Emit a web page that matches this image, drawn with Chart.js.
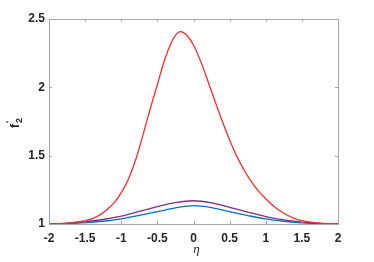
<!DOCTYPE html>
<html>
<head>
<meta charset="utf-8">
<script src="https://cdn.jsdelivr.net/npm/chart.js@4"></script>
<style>
  html, body { margin: 0; padding: 0; background: #fff; }
  #wrap { width: 374px; height: 262px; }
</style>
</head>
<body>
<div id="wrap"><canvas id="chart" width="374" height="262"></canvas></div>
<script>
// values
var redEta = [-2, -1.75, -1.5, -1.4, -1.3, -1.2, -1.1, -1.0, -0.9, -0.8, -0.7, -0.6, -0.5, -0.4, -0.3, -0.25, -0.18, -0.1, 0, 0.1, 0.2, 0.3, 0.4, 0.5, 0.6, 0.7, 0.8, 0.9, 1.0, 1.1, 1.2, 1.3, 1.4, 1.5, 1.75, 2];
var redF = [1.0, 1.006, 1.024, 1.04, 1.065, 1.105, 1.155, 1.23, 1.33, 1.47, 1.65, 1.84, 2.02, 2.20, 2.335, 2.38, 2.407, 2.385, 2.31, 2.19, 2.045, 1.894, 1.75, 1.615, 1.495, 1.395, 1.31, 1.24, 1.185, 1.135, 1.095, 1.064, 1.040, 1.024, 1.006, 1.0];

var eta = [-2, -1.75, -1.5, -1.25, -1.0, -0.75, -0.5, -0.25, 0, 0.25, 0.5, 0.75, 1.0, 1.25, 1.5, 1.75, 2];
var purpleF = [1.0, 1.006, 1.017, 1.033, 1.058, 1.092, 1.127, 1.156, 1.170, 1.155, 1.122, 1.087, 1.054, 1.03, 1.013, 1.004, 1.0];
var blueF = [1.0, 1.003, 1.01, 1.02, 1.037, 1.063, 1.09, 1.118, 1.134, 1.12, 1.09, 1.062, 1.037, 1.02, 1.008, 1.002, 1.0];

var xTicks = [-2, -1.5, -1, -0.5, 0, 0.5, 1, 1.5, 2];
var yTicks = [1, 1.5, 2, 2.5];

function pts(xs, ys) {
    return xs.map((x, i) => ({ x: x, y: ys[i] }));
}

var axisColor = '#a6a6a6';
var tickFont = { family: 'Liberation Sans', size: 12, weight: 'bold' };

// box, inward ticks and axis titles
const boxPlugin = {
    id: 'box',
    afterDraw(chart) {
        const c = chart.ctx;
        const a = chart.chartArea;
        const xs = chart.scales.x, ys = chart.scales.y;
        c.save();
        c.strokeStyle = axisColor;
        c.lineWidth = 1;
        c.strokeRect(Math.round(a.left) + 0.5, Math.round(a.top) + 0.5,
            Math.round(a.right - a.left), Math.round(a.bottom - a.top));
        c.beginPath();
        xTicks.forEach(v => {
            const px = Math.round(xs.getPixelForValue(v)) + 0.5;
            c.moveTo(px, a.bottom); c.lineTo(px, a.bottom - 3);
            c.moveTo(px, a.top); c.lineTo(px, a.top + 3);
        });
        yTicks.forEach(v => {
            const py = Math.round(ys.getPixelForValue(v)) + 0.5;
            c.moveTo(a.left, py); c.lineTo(a.left + 3, py);
            c.moveTo(a.right, py); c.lineTo(a.right - 3, py);
        });
        c.stroke();

        // x title
        c.fillStyle = '#262626';
        c.font = 'italic 13px "Liberation Serif"';
        c.textAlign = 'center';
        c.textBaseline = 'middle';
        c.fillText('η', (a.left + a.right) / 2 + 3, 250);

        // y title f2'
        c.translate(15, 122);
        c.rotate(-Math.PI / 2);
        c.textAlign = 'left';
        c.textBaseline = 'alphabetic';
        c.font = 'bold 12px "Liberation Sans"';
        c.fillText('f', -6, 4);
        c.font = 'bold 9px "Liberation Sans"';
        c.fillText('2', -1, 7);
        c.fillText('\'', -1, -3);
        c.restore();
    }
};

const ctx = document.getElementById('chart').getContext('2d');
const myChart = new Chart(ctx, {
    type: 'line',
    data: {
        datasets: [{
            label: 'red',
            data: pts(redEta, redF),
            borderColor: '#ff2a2a',
            borderWidth: 1.3,
            pointRadius: 0,
            fill: false,
            cubicInterpolationMode: 'monotone'
        }, {
            label: 'purple',
            data: pts(eta, purpleF),
            borderColor: '#7e2f8e',
            borderWidth: 1.3,
            pointRadius: 0,
            fill: false,
            cubicInterpolationMode: 'monotone'
        }, {
            label: 'blue',
            data: pts(eta, blueF),
            borderColor: '#0072bd',
            borderWidth: 1.3,
            pointRadius: 0,
            fill: false,
            cubicInterpolationMode: 'monotone'
        }]
    },
    options: {
        responsive: false,
        animation: false,
        layout: { padding: { top: 19, right: 36, left: 0, bottom: 0 } },
        plugins: {
            legend: { display: false },
            tooltip: { enabled: false }
        },
        scales: {
            x: {
                type: 'linear',
                min: -2, max: 2,
                afterFit: s => { s.height = 38; },
                afterBuildTicks: s => { s.ticks = xTicks.map(v => ({ value: v })); },
                grid: { display: false, drawTicks: false },
                border: { display: false },
                ticks: {
                    font: tickFont, color: '#262626', padding: 7, maxRotation: 0,
                    callback: v => String(v)
                }
            },
            y: {
                type: 'linear',
                min: 1, max: 2.5,
                afterFit: s => { s.width = 49; },
                afterBuildTicks: s => { s.ticks = yTicks.map(v => ({ value: v })); },
                grid: { display: false, drawTicks: false },
                border: { display: false },
                ticks: {
                    font: tickFont, color: '#262626', padding: 4,
                    callback: v => String(v)
                }
            }
        }
    },
    plugins: [boxPlugin]
});
</script>
</body>
</html>
